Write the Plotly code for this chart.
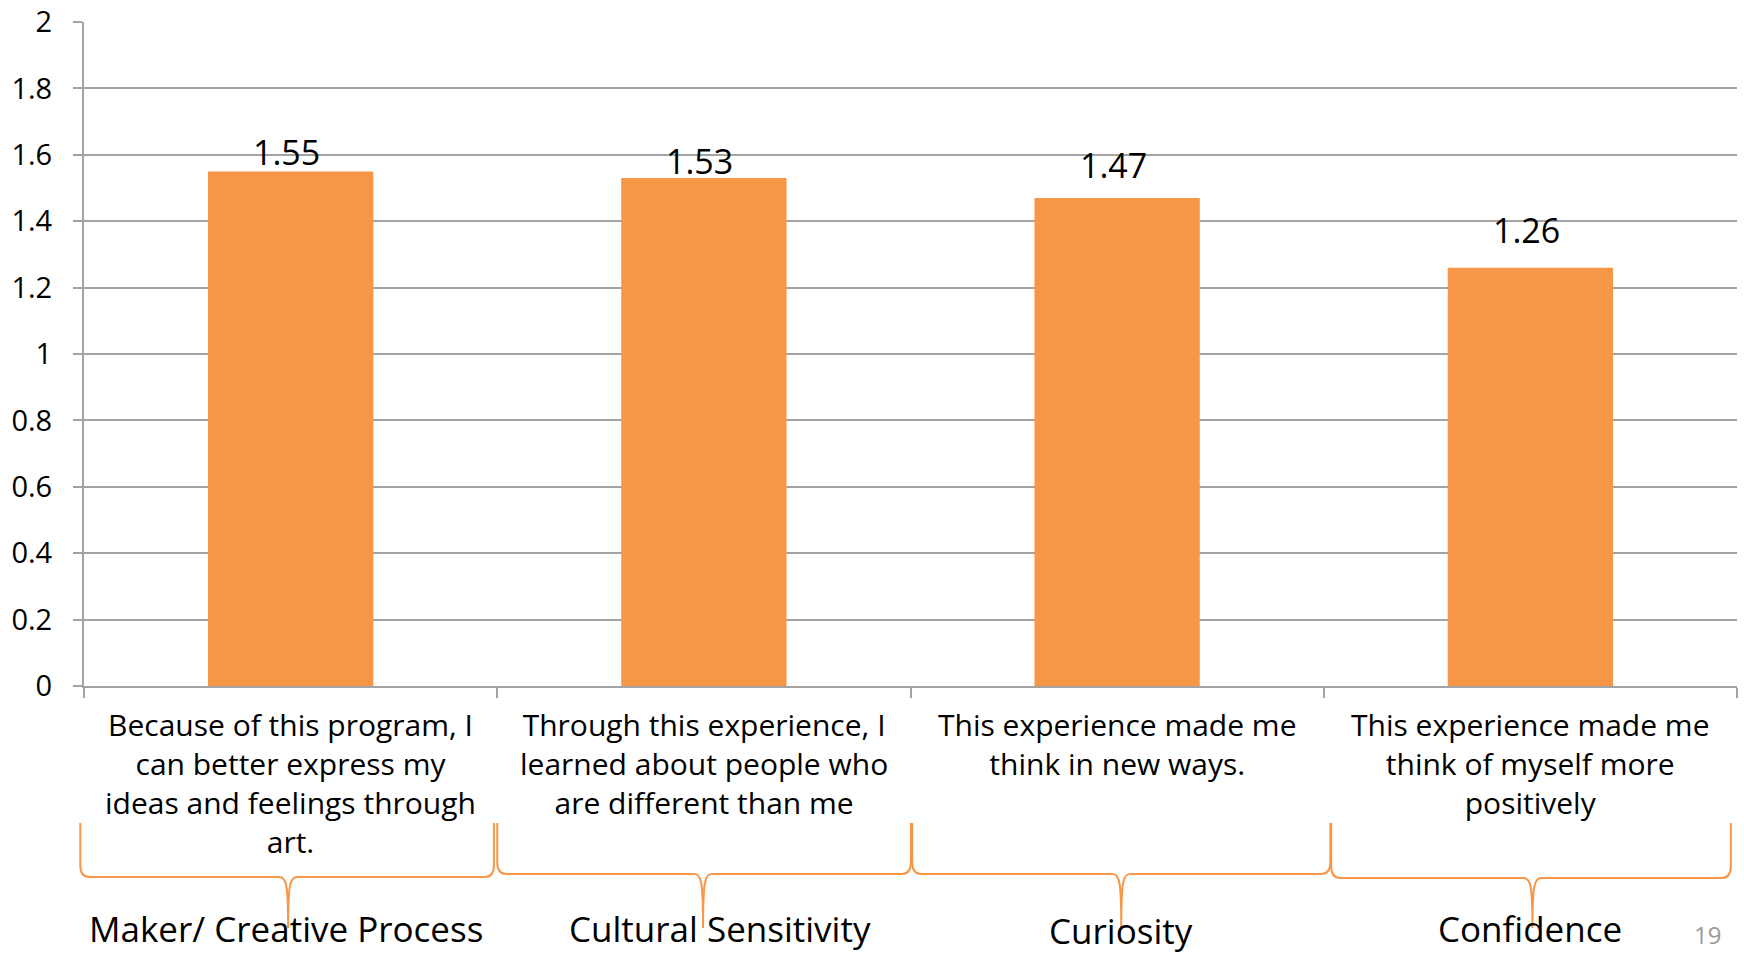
import plotly.graph_objects as go

# ---- data -------------------------------------------------------------
statements = [
    "Because of this program, I<br>can better express my<br>ideas and feelings through<br>art.",
    "Through this experience, I<br>learned about people who<br>are different than me",
    "This experience made me<br>think in new ways.",
    "This experience made me<br>think of myself more<br>positively",
]
scores = [1.55, 1.53, 1.47, 1.26]
groups = ["Maker/ Creative Process", "Cultural Sensitivity", "Curiosity", "Confidence"]
y_ticks = [0, 0.2, 0.4, 0.6, 0.8, 1, 1.2, 1.4, 1.6, 1.8, 2]
page_number = "19"

# ---- layout constants (pixels / axis units) --------------------------
W, H = 1744, 953
M_L, M_R, M_T, M_B = 84, 7, 22, 267
PLOT_W = W - M_L - M_R
PLOT_H = H - M_T - M_B
PLOT_BOTTOM = H - M_B
ORANGE = "#F79646"
GRID = "#A3A3A3"
FONT = "Open Sans"
N = len(statements)
X_MIN, X_MAX = -0.5, N - 0.5

# value-label lift above each bar top (px)
label_lift = [19, 17, 33, 38]
# brace geometry per group: left end, tip, right end (x units), bar row (px)
brace_left = [-0.509, 0.500, 1.504, 2.518]
brace_tip = [-0.006, 0.998, 2.010, 3.005]
brace_right = [0.492, 1.501, 2.516, 3.485]
brace_row = [877, 874, 874, 878]
group_x = [-0.010, 1.038, 2.010, 2.999]
group_row = [928, 928, 930, 928]

x_pos = list(range(N))
cat_px = PLOT_W / N


def py(ypx):
    """pixel row -> paper y"""
    return (PLOT_BOTTOM - ypx) / PLOT_H


def px(xu):
    """x axis units -> paper x (braces may reach past the axis ends)"""
    return (xu - X_MIN) / (X_MAX - X_MIN)


def dxp(pix):
    """pixel width -> paper x"""
    return pix / PLOT_W


fig = go.Figure()
fig.add_trace(go.Bar(
    x=x_pos,
    y=scores,
    width=0.4,
    marker=dict(color=ORANGE, line=dict(width=0)),
    hoverinfo="skip",
))

annotations = []
# value labels above the bars
for i, v in enumerate(scores):
    annotations.append(dict(
        x=i, xref="x", y=v, yref="y", yanchor="middle", xanchor="center",
        yshift=label_lift[i], xshift=-4,
        text=f"{v:.2f}", showarrow=False,
        font=dict(family=FONT, size=34, color="black"),
    ))

# statement labels under each bar
for i, s in enumerate(statements):
    annotations.append(dict(
        x=i, xref="x", y=py(702), yref="paper", yanchor="top", xanchor="center",
        text=s, showarrow=False, align="center",
        font=dict(family=FONT, size=30, color="black"),
    ))

# curly braces grouping each statement with its construct
y_top, y_tip = py(823), py(928)
corner_y = 12 / PLOT_H
shapes = []
for i, g in enumerate(groups):
    xl, c, xr = px(brace_left[i]), px(brace_tip[i]), px(brace_right[i])
    y_mid = py(brace_row[i])
    r = dxp(9)
    tw = dxp(9)
    path = (
        f"M {xl},{y_top} L {xl},{y_mid + corner_y} "
        f"Q {xl},{y_mid} {xl + r},{y_mid} "
        f"L {c - tw},{y_mid} "
        f"C {c - tw * 0.2},{y_mid} {c},{y_mid - corner_y * 0.6} {c},{y_tip} "
        f"C {c},{y_mid - corner_y * 0.6} {c + tw * 0.2},{y_mid} {c + tw},{y_mid} "
        f"L {xr - r},{y_mid} "
        f"Q {xr},{y_mid} {xr},{y_mid + corner_y} L {xr},{y_top}"
    )
    shapes.append(dict(
        type="path", path=path, xref="paper", yref="paper",
        line=dict(color=ORANGE, width=2), fillcolor="rgba(0,0,0,0)",
        layer="above",
    ))
    annotations.append(dict(
        x=group_x[i], xref="x", y=py(group_row[i]), yref="paper",
        xanchor="center", yanchor="middle",
        text=g, showarrow=False,
        font=dict(family=FONT, size=35, color="black"),
    ))

annotations.append(dict(
    x=(1707 - M_L) / PLOT_W, xref="paper", y=py(934), yref="paper",
    xanchor="center", yanchor="middle",
    text=page_number, showarrow=False,
    font=dict(family=FONT, size=24, color="#9A9A9A"),
))

fig.update_layout(
    width=W, height=H, autosize=False,
    margin=dict(l=M_L, r=M_R, t=M_T, b=M_B, pad=0),
    paper_bgcolor="white", plot_bgcolor="white",
    showlegend=False,
    shapes=shapes,
    annotations=annotations,
    xaxis=dict(
        range=[X_MIN, X_MAX],
        tickvals=[i - 0.5 for i in range(N + 1)],
        showticklabels=False, automargin=False,
        ticks="outside", ticklen=10, tickwidth=2, tickcolor=GRID,
        showline=True, linecolor=GRID, linewidth=2,
        showgrid=False, zeroline=False, fixedrange=True,
    ),
    yaxis=dict(
        range=[0, 2], automargin=False,
        tickvals=y_ticks,
        ticktext=[f"{v:g}" for v in y_ticks],
        ticks="outside", ticklen=9, tickwidth=2, tickcolor=GRID,
        ticklabelstandoff=15,
        tickfont=dict(family=FONT, size=29, color="black"),
        showline=True, linecolor=GRID, linewidth=2,
        showgrid=True, gridcolor=GRID, gridwidth=2,
        zeroline=False, fixedrange=True,
    ),
)

fig.write_html("out.html", config={"displayModeBar": False})
